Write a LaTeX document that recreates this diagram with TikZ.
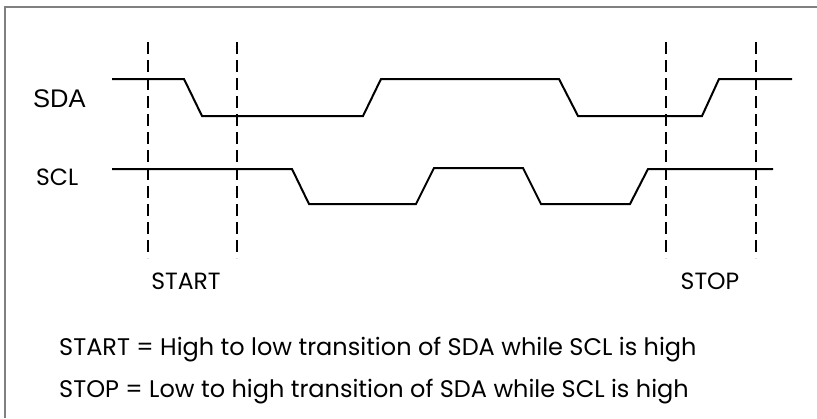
\documentclass[tikz,border=0pt]{standalone}
\usepackage{fontspec}
\setmainfont{Poppins}
\newfontfamily\arialfont{Liberation Sans}
\usepackage{tikz}

\begin{document}
\begin{tikzpicture}[x=1pt,y=-1pt,
  sig/.style={line width=2pt,line join=miter},
  marker/.style={line width=2pt,dash pattern=on 12pt off 6pt},
  txt/.style={font=\fontsize{23.5}{28}\selectfont,inner sep=0pt},
  deftxt/.style={font=\fontsize{24}{28}\selectfont,inner sep=0pt,anchor=base west}]
\useasboundingbox (0,0) rectangle (817,418);
\draw[gray,line width=1.5pt] (5,418) -- (5,7) -- (817,7);
\draw[sig] (112,79) -- (184,79) -- (202,116) -- (363,116) -- (381,79) -- (559,79) -- (578,116) -- (702,116) -- (719,79) -- (792,79);
\draw[sig] (112,169) -- (292,169) -- (309,204) -- (416,204) -- (434,168) -- (523,168) -- (541,204) -- (630,204) -- (648,169) -- (773,169);
\foreach \x in {148,237,666,756}
  \draw[marker] (\x,42) -- (\x,258);
% The labels
\node[txt,anchor=base west,font=\arialfont\fontsize{25.5}{30}\selectfont] (sda) at (33,107) {SDA};
\node[txt,anchor=base west] (scl) at (36,185) {SCL};
\node[txt,anchor=base] (start) at (186,289) {START};
\node[txt,anchor=base] (stop) at (710,289) {STOP};
\node[deftxt] (startdef) at (59,355) {START = High to low transition of SDA while SCL is high};
\node[deftxt] (stopdef) at (59,397) {STOP = Low to high transition of SDA while SCL is high};
\end{tikzpicture}
\end{document}
